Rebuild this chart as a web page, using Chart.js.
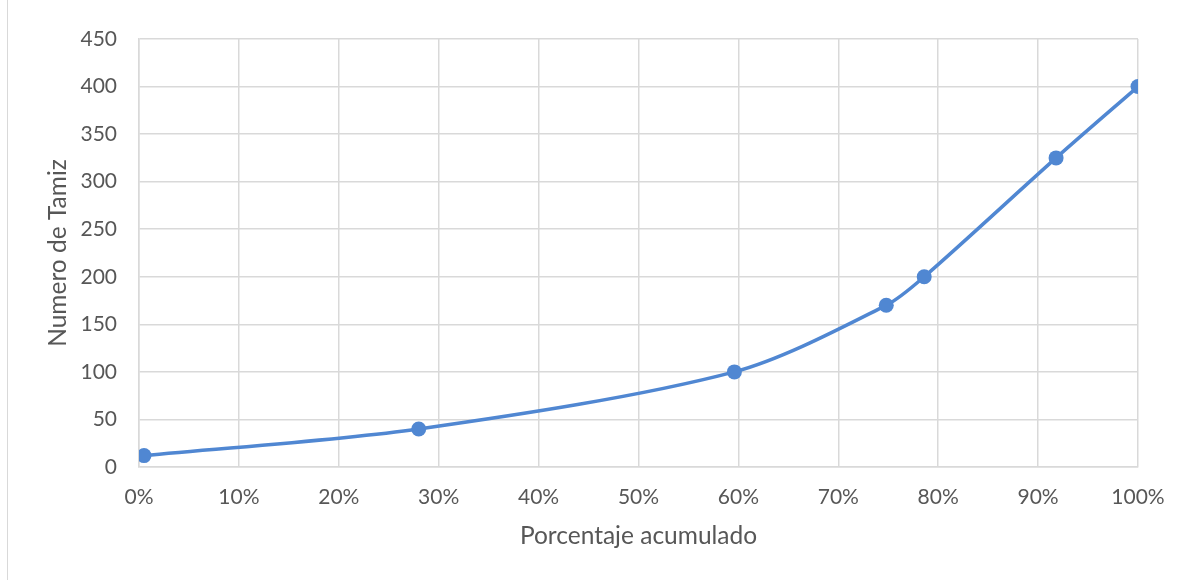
<!DOCTYPE html>
<html>
<head>
<meta charset="utf-8">
<script src="https://cdn.jsdelivr.net/npm/chart.js@4/dist/chart.umd.min.js"></script>
<style>
  html, body { margin: 0; padding: 0; background: #fff; }
  #wrap { position: relative; width: 1186px; height: 580px; }
  #edge { position: absolute; left: 7px; top: 0; width: 1px; height: 580px; background: #d9d9d9; }
</style>
</head>
<body>
<div id="wrap">
  <div id="edge"></div>
  <canvas id="curva" width="1186" height="580"></canvas>
</div>
<script>
// Curva granulométrica: porcentaje acumulado vs número de tamiz
const porcentajeAcumulado = [0.005, 0.28, 0.596, 0.748, 0.786, 0.918, 1.0];
const numeroTamiz = [12, 40, 100, 170, 200, 325, 400];
const ticksY = [0, 50, 100, 150, 200, 250, 300, 350, 400, 450];

const AZUL = '#5087d2';
const GRIS_TEXTO = '#575757';
const GRIS_REJILLA = '#d9d9d9';
const FAMILIA = 'Lato, "Open Sans", sans-serif';
const fuenteTicks = { family: FAMILIA, size: 21 };
const fuenteTitulo = { family: FAMILIA, size: 24.5 };

const puntos = porcentajeAcumulado.map((x, i) => ({ x: x, y: numeroTamiz[i] }));

new Chart(document.getElementById('curva'), {
    type: 'line',
    data: {
        datasets: [{
            data: puntos,
            borderColor: AZUL,
            backgroundColor: AZUL,
            borderWidth: 3.5,
            pointRadius: 7.5,
            pointHoverRadius: 7.5,
            pointBorderWidth: 0,
            tension: 0.3,
            fill: false
        }]
    },
    options: {
        responsive: false,
        animation: false,
        layout: { padding: { top: 39, right: 48, left: 0, bottom: 0 } },
        plugins: { legend: { display: false }, tooltip: { enabled: false } },
        scales: {
            x: {
                type: 'linear',
                min: 0,
                max: 1,
                grid: { color: GRIS_REJILLA, lineWidth: 1.5, drawTicks: false },
                border: { color: GRIS_REJILLA, width: 1.5 },
                ticks: {
                    stepSize: 0.1,
                    padding: 18,
                    color: GRIS_TEXTO,
                    font: fuenteTicks,
                    callback: v => Math.round(v * 100) + '%'
                },
                title: {
                    display: true,
                    text: 'Porcentaje acumulado',
                    color: GRIS_TEXTO,
                    font: fuenteTitulo,
                    padding: { top: 0, bottom: 29 }
                },
                afterFit: s => { s.height = 113; }
            },
            y: {
                min: 0,
                max: 450,
                afterBuildTicks: s => { s.ticks = ticksY.map(v => ({ value: v })); },
                grid: { color: GRIS_REJILLA, lineWidth: 1.5, drawTicks: false },
                border: { color: GRIS_REJILLA, width: 1.5 },
                ticks: { padding: 22, color: GRIS_TEXTO, font: fuenteTicks },
                title: {
                    display: true,
                    text: 'Numero de Tamiz',
                    color: GRIS_TEXTO,
                    font: fuenteTitulo,
                    padding: { top: 43, bottom: 0 }
                },
                afterFit: s => { s.width = 139; }
            }
        }
    }
});
</script>
</body>
</html>
